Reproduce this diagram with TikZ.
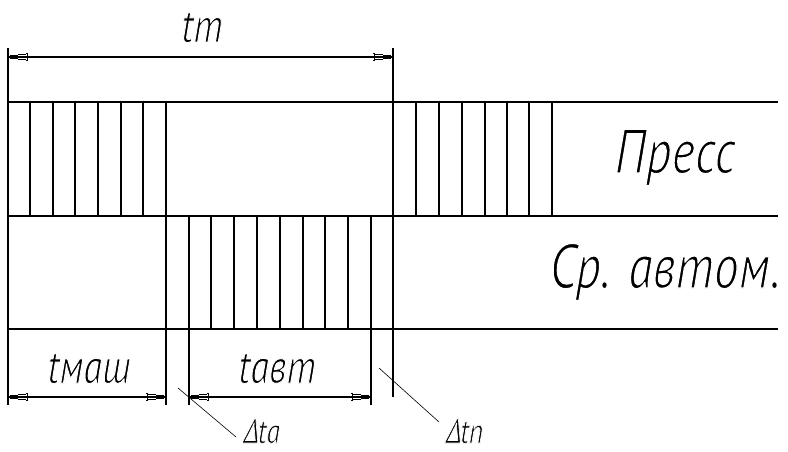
\documentclass[tikz,border=0pt]{standalone}
\usepackage{fontspec}
\newfontfamily\gost[FakeStretch=0.8,FakeBold=2]{PT Sans Italic}
\newfontfamily\gostD[FakeStretch=0.8,FakeBold=2,FakeSlant=0.22]{PT Sans Italic}
\newcommand{\thintext}[1]{\special{pdf:bcolor [0] [1]}#1\special{pdf:ecolor}}
\begin{document}
\begin{tikzpicture}[x=0.75pt,y=-0.75pt,
  ln/.style={line width=0.8pt,black},
  thin line/.style={line width=0.45pt,black},
  lbl/.style={inner sep=0pt,outer sep=0pt,anchor=base},
  big/.style={lbl,font=\gost\fontsize{47}{50}\selectfont},
  mid/.style={lbl,font=\gost\fontsize{36}{40}\selectfont},
  small/.style={lbl,font=\gost\fontsize{26}{29}\selectfont},
  cadtip/.pic={
    \fill (2,-1.6) rectangle (10,1.6);
    \draw[line width=0.6pt] (10,-2.2) -- (18,-2.2) (10,2.2) -- (18,2.2)
      (19,-3.6) -- (19,3.6) (17.6,-3.6) -- (20.4,-3.6) (17.6,3.6) -- (20.4,3.6);
  }]
\useasboundingbox (0,0) rectangle (788,452);
\fill[white] (0,0) rectangle (788,452);

% band boundaries
\draw[ln] (8,102) -- (778,102);
\draw[ln] (8,216) -- (778,216);
\draw[ln] (8,329) -- (778,329);

% long vertical lines (extension lines)
\draw[ln] (8,48) -- (8,405);
\draw[ln] (393,48) -- (393,397);
\draw[ln] (166,102) -- (166,405);
\draw[ln] (189,216) -- (189,405);
\draw[ln] (371,216) -- (371,405);

% press band hatch (left)
\foreach \x in {30,53,75,98,121,143}
  \draw[ln] (\x,102) -- (\x,216);
% press band hatch (right)
\foreach \x in {416,439,462,485,507,529,552}
  \draw[ln] (\x,102) -- (\x,216);
% automaton band hatch
\foreach \x in {211,234,257,280,303,325,348}
  \draw[ln] (\x,216) -- (\x,329);

% dimension coordinates
\coordinate (tmL) at (8,57);
\coordinate (tmR) at (393,57);
\coordinate (mashL) at (8,397);
\coordinate (mashR) at (166,397);
\coordinate (avtL) at (189,397);
\coordinate (avtR) at (371,397);

% dimension lines
\draw[ln] (tmL) -- (tmR);
\draw[ln] (mashL) -- (mashR);
\draw[ln] (avtL) -- (avtR);
\foreach \c in {tmL,mashL,avtL}
  \pic[shift={(\c)}] {cadtip};
\foreach \c in {tmR,mashR,avtR}
  \pic[shift={(\c)},xscale=-1] {cadtip};

% labels
\node[mid] (ttm) at (202,42) {\thintext{tт}};
\node[big] (press) at (675,173) {\thintext{Пресс}};
\node[big] (avtom) at (665,288) {\thintext{Ср. автом.}};
\node[mid] (tmash) at (89,383) {\thintext{tмаш}};
\node[mid] (tavt) at (277,383) {\thintext{tавт}};
\node[small] (dta) at (261,443) {\thintext{{\gostD Δ}ta}};
\node[small] (dtp) at (464,443) {\thintext{{\gostD Δ}tп}};

% leaders
\coordinate (ldA1) at (178,388);
\coordinate (ldA2) at (236,437);
\coordinate (ldP1) at (379,368);
\coordinate (ldP2) at (439,422);
\draw[thin line] (ldA1) -- (ldA2);
\draw[thin line] (ldP1) -- (ldP2);
\end{tikzpicture}
\end{document}
